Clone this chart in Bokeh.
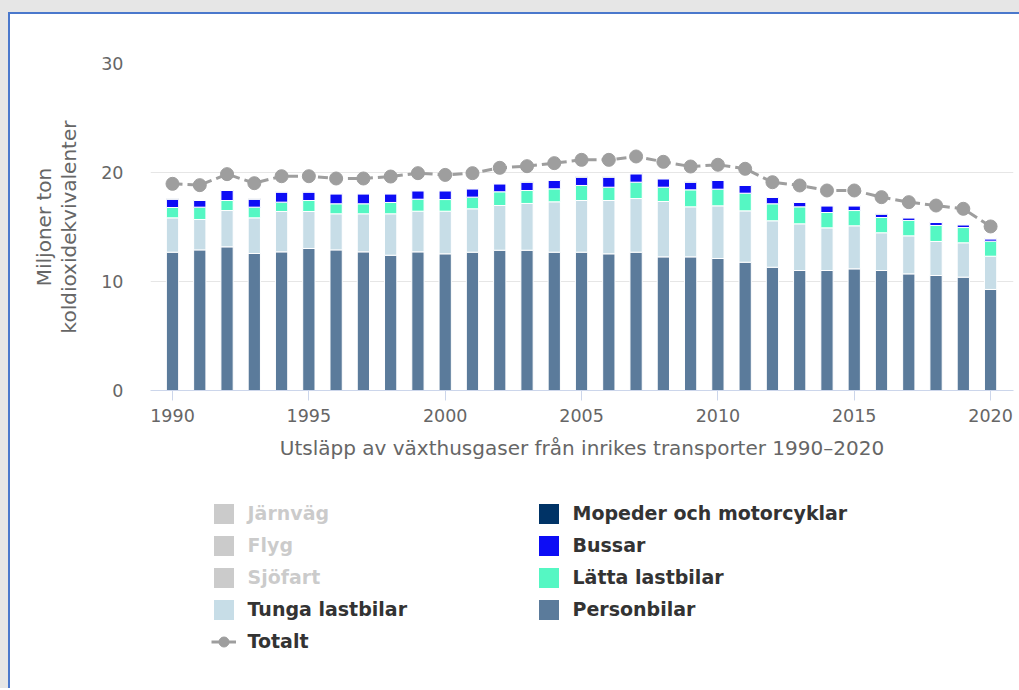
from bokeh.plotting import figure
from bokeh.models import (FixedTicker, Legend, LegendItem, ColumnDataSource,
                          Range1d, Spacer)
from bokeh.layouts import column, row
from bokeh.embed import file_html
from bokeh.resources import INLINE

NAN = float("nan")

# ---------------- data (miljoner ton koldioxidekvivalenter) ----------------
years = list(range(1990, 2021))
personbilar = [12.69, 12.90, 13.18, 12.57, 12.72, 13.03, 12.90, 12.72, 12.41, 12.72,
               12.54, 12.69, 12.87, 12.87, 12.69, 12.69, 12.54, 12.69, 12.26, 12.26,
               12.11, 11.77, 11.31, 11.01, 11.01, 11.16, 11.01, 10.70, 10.55, 10.40,
               9.27]
tunga_lastbilar = [3.15, 2.79, 3.33, 3.27, 3.70, 3.39, 3.31, 3.49, 3.80, 3.73,
                   3.91, 3.98, 4.10, 4.29, 4.62, 4.74, 4.89, 4.92, 5.08, 4.59,
                   4.83, 4.71, 4.26, 4.28, 3.91, 3.95, 3.46, 3.49, 3.12, 3.15,
                   3.05]
latta_lastbilar = [0.95, 1.13, 0.92, 0.98, 0.86, 1.01, 0.92, 0.92, 1.04, 1.10,
                   1.07, 1.07, 1.26, 1.19, 1.19, 1.38, 1.22, 1.50, 1.31, 1.56,
                   1.53, 1.62, 1.56, 1.56, 1.41, 1.40, 1.40, 1.41, 1.47, 1.40,
                   1.38]
bussar = [0.76, 0.61, 0.92, 0.73, 0.92, 0.77, 0.91, 0.91, 0.79, 0.77,
          0.80, 0.76, 0.73, 0.76, 0.77, 0.76, 0.92, 0.77, 0.77, 0.70,
          0.80, 0.71, 0.58, 0.40, 0.61, 0.43, 0.31, 0.24, 0.27, 0.25,
          0.21]
mopeder = [0.04, 0.04, 0.04, 0.04, 0.04, 0.04, 0.04, 0.04, 0.04, 0.04,
           0.04, 0.04, 0.04, 0.04, 0.04, 0.04, 0.04, 0.04, 0.04, 0.04,
           0.04, 0.04, 0.04, 0.04, 0.04, 0.04, 0.04, 0.04, 0.04, 0.04,
           0.04]
totalt = [18.96, 18.84, 19.85, 19.02, 19.66, 19.66, 19.45, 19.45, 19.63, 19.94,
          19.78, 19.94, 20.43, 20.58, 20.86, 21.16, 21.16, 21.47, 20.98, 20.55,
          20.71, 20.34, 19.11, 18.81, 18.35, 18.35, 17.74, 17.28, 16.97, 16.67,
          15.05]
x_ticks = [1990, 1995, 2000, 2005, 2010, 2015, 2020]
y_ticks = [0, 10, 20, 30]

stack_names = ["Personbilar", "Tunga lastbilar", "Lätta lastbilar", "Bussar",
               "Mopeder och motorcyklar"]
stack_colors = ["#5b7b9b", "#c7dde7", "#55f7c3", "#0d0df5", "#003366"]
hidden_names = ["Järnväg", "Flyg", "Sjöfart"]
total_name = "Totalt"
total_color = "#9e9e9e"

# legend reading order (left column, then right column)
legend_order = ["Järnväg", "Flyg", "Sjöfart", "Tunga lastbilar", "Totalt",
                "Mopeder och motorcyklar", "Bussar", "Lätta lastbilar", "Personbilar"]

FONT = "DejaVu Sans"
AXIS_COLOR = "#666666"
BLUE = "#4a78cc"
GRAY = "#e6e6e6"

src = ColumnDataSource(data={
    "year": years,
    "Personbilar": personbilar,
    "Tunga lastbilar": tunga_lastbilar,
    "Lätta lastbilar": latta_lastbilar,
    "Bussar": bussar,
    "Mopeder och motorcyklar": mopeder,
    "Totalt": totalt,
})

# ---------------- main chart ----------------
p = figure(width=1009, height=466, output_backend="svg", toolbar_location=None,
           x_range=Range1d(1989.193, 2020.84), y_range=Range1d(0, 30),
           min_border_left=140, min_border_right=6, min_border_top=49,
           min_border_bottom=90)
p.outline_line_color = None
p.background_fill_color = "white"
p.border_fill_color = "white"

bars = p.vbar_stack(stack_names, x="year", width=0.45, source=src,
                    fill_color=stack_colors, line_color="white", line_width=1)

line_r = p.line(x="year", y="Totalt", source=src, line_color=total_color,
                line_width=3, line_dash="10 5")
dots_r = p.scatter(x="year", y="Totalt", source=src, size=13, marker="circle",
                   fill_color=total_color, line_color=total_color)

p.xaxis.ticker = FixedTicker(ticks=x_ticks)
p.xaxis.minor_tick_line_color = None
p.xaxis.axis_line_color = "#ccd6eb"
p.xaxis.major_tick_line_color = "#ccd6eb"
p.xaxis.major_tick_out = 10
p.xaxis.major_tick_in = 0
p.xaxis.major_label_standoff = 8
p.xaxis.major_label_text_font = FONT
p.xaxis.major_label_text_font_size = "17.5px"
p.xaxis.major_label_text_color = AXIS_COLOR
p.xaxis.axis_label = "Utsläpp av växthusgaser från inrikes transporter 1990–2020"
p.xaxis.axis_label_text_font = FONT
p.xaxis.axis_label_text_font_size = "20px"
p.xaxis.axis_label_text_font_style = "normal"
p.xaxis.axis_label_text_color = AXIS_COLOR
p.xaxis.axis_label_standoff = 11

p.yaxis.ticker = FixedTicker(ticks=y_ticks)
p.yaxis.minor_tick_line_color = None
p.yaxis.axis_line_color = None
p.yaxis.major_tick_line_color = None
p.yaxis.major_tick_out = 0
p.yaxis.major_tick_in = 0
p.yaxis.major_label_standoff = 27
p.yaxis.major_label_text_font = FONT
p.yaxis.major_label_text_font_size = "17.5px"
p.yaxis.major_label_text_color = AXIS_COLOR
p.yaxis.axis_label = "Miljoner ton\nkoldioxidekvivalenter"
p.yaxis.axis_label_text_font = FONT
p.yaxis.axis_label_text_font_size = "20px"
p.yaxis.axis_label_text_font_style = "normal"
p.yaxis.axis_label_text_color = AXIS_COLOR
p.yaxis.axis_label_text_line_height = 1.07
p.yaxis.axis_label_standoff = 17

p.xgrid.grid_line_color = None
p.ygrid.grid_line_color = "#e6e6e6"

# ---------------- legend panel (proxy glyphs with the series styles) ----------------
lg = figure(width=1009, height=208, output_backend="svg", toolbar_location=None,
            x_range=Range1d(0, 1), y_range=Range1d(0, 1),
            x_axis_type=None, y_axis_type=None,
            min_border_left=0, min_border_right=0, min_border_top=0,
            min_border_bottom=0)
lg.outline_line_color = None
lg.background_fill_color = "white"
lg.border_fill_color = "white"

proxies = {}
for name, color in zip(stack_names, stack_colors):
    proxies[name] = [lg.vbar(x=[NAN], top=[NAN], width=0.5, fill_color=color,
                             line_color=None)]
for name in hidden_names:
    r = lg.vbar(x=[NAN], top=[NAN], width=0.5, fill_color="#333333", line_color=None)
    r.visible = False
    proxies[name] = [r]
proxies[total_name] = [
    lg.line(x=[NAN, NAN], y=[NAN, NAN], line_color=total_color, line_width=3),
    lg.scatter(x=[NAN], y=[NAN], size=13, marker="circle", fill_color=total_color,
               line_color=total_color),
]

legend = Legend(items=[LegendItem(label=n, renderers=proxies[n]) for n in legend_order],
                ncols=2, location=(60.5, 34.5), click_policy="hide")
legend.label_text_font = FONT
legend.label_text_font_size = "19px"
legend.label_text_font_style = "bold"
legend.label_text_color = "#333333"
legend.glyph_width = 25
legend.glyph_height = 25
legend.label_standoff = 12
legend.label_width = 281
legend.label_height = 25
legend.spacing = 7
legend.padding = 5
legend.margin = 0
legend.border_line_color = None
legend.background_fill_alpha = 0
legend.inactive_fill_color = "white"
legend.inactive_fill_alpha = 0.75
lg.add_layout(legend, "center")

# ---------------- page frame: grey surround with a blue top/left border ----------------
figs = column(p, lg, styles={"background-color": "white"})
top_bar = Spacer(width=1011, height=2, styles={"background-color": BLUE})
left_bar = Spacer(width=2, height=674, styles={"background-color": BLUE})
inner = column(top_bar, row(left_bar, figs))
page = column(Spacer(height=12), row(Spacer(width=8), inner),
              styles={"background-color": GRAY})

open("out.html", "w").write(file_html(page, INLINE))
